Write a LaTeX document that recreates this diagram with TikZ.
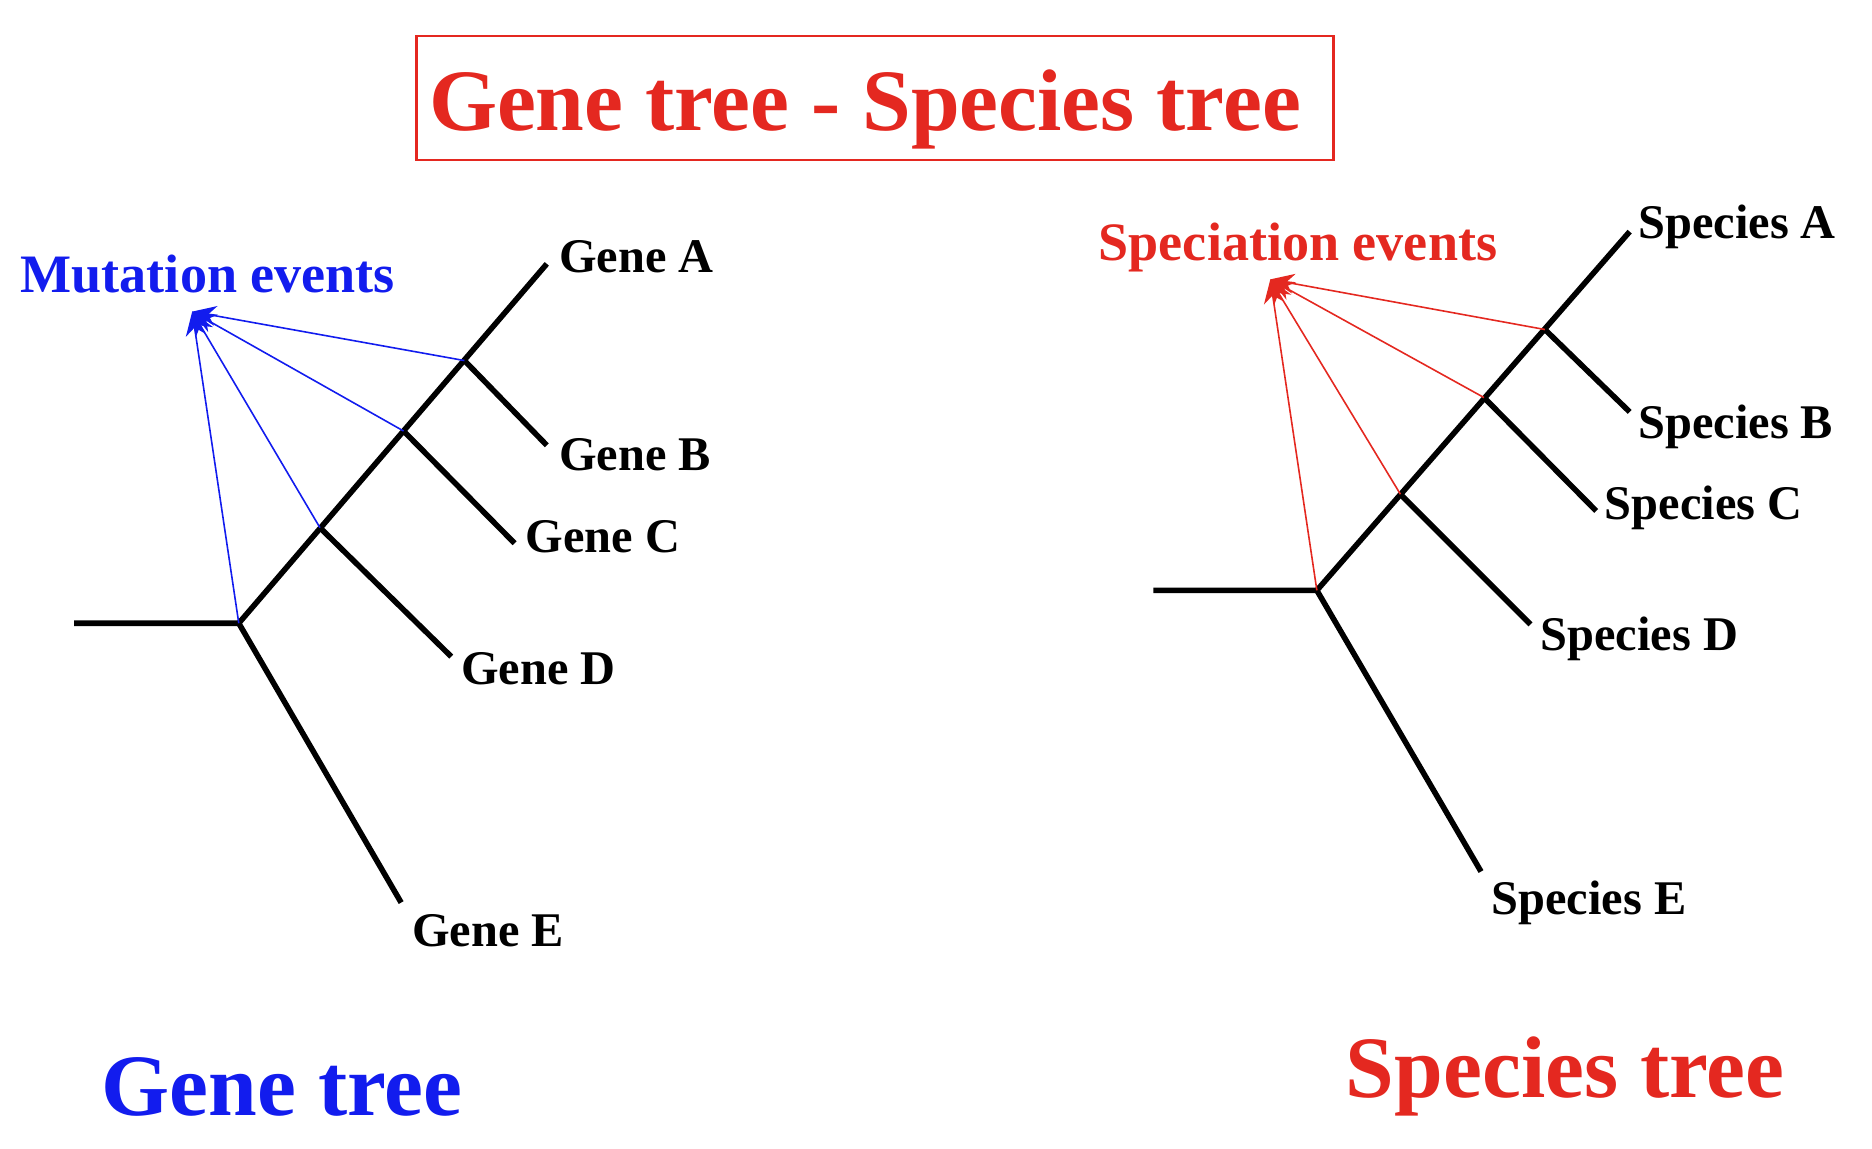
\documentclass[tikz,border=0pt]{standalone}
\usepackage{fontspec}
\setmainfont{Liberation Serif}
\usetikzlibrary{arrows.meta}
\definecolor{tred}{RGB}{228,40,32}
\definecolor{tblue}{RGB}{18,28,238}
\begin{document}
\begin{tikzpicture}[x=0.6pt,y=-0.6pt,
 branch/.style={line width=2.8pt, line cap=butt},
 evt/.style={line width=0.8pt, -{Stealth[length=12pt,width=10pt]}},
 leaf/.style={anchor=base west, inner sep=0pt, font=\fontsize{24.3}{24}\selectfont\bfseries},
 big/.style={anchor=base west, inner sep=0pt, font=\fontsize{44}{44}\selectfont\bfseries},
 evlab/.style={anchor=base west, inner sep=0pt, font=\fontsize{27.2}{27}\selectfont\bfseries}]
\useasboundingbox (0,0) rectangle (1568,962);

% title
\node[draw=tred, line width=1.2pt, minimum width=768*0.6pt, minimum height=104*0.6pt, inner sep=0pt] (box) at (733,82) {};
\node[big, text=tred] (title) at (359,109) {Gene tree - Species tree};

% ---------- gene tree ----------
\coordinate (gL) at (62,522);
\coordinate (gR) at (200,522);
\coordinate (gnD) at (268,442);
\coordinate (gnC) at (338,361);
\coordinate (gnB) at (389,302);
\coordinate (gA) at (458,221);
\coordinate (gB) at (458,373);
\coordinate (gC) at (431,455);
\coordinate (gD) at (378,550);
\coordinate (gE) at (336,756);
\coordinate (gArr) at (161,261);

\draw[branch] (gL) -- (gR) -- (gA);
\draw[branch] (gnB) -- (gB);
\draw[branch] (gnC) -- (gC);
\draw[branch] (gnD) -- (gD);
\draw[branch] (gR) -- (gE);

\draw[evt, tblue] (gR) -- (gArr);
\draw[evt, tblue] (gnD) -- (gArr);
\draw[evt, tblue] (gnC) -- (gArr);
\draw[evt, tblue] (gnB) -- (gArr);

\node[leaf] (lgA) at (468,228) {Gene A};
\node[leaf] (lgB) at (468,394) {Gene B};
\node[leaf] (lgC) at (440,463) {Gene C};
\node[leaf] (lgD) at (386,573) {Gene D};
\node[leaf] (lgE) at (345,793) {Gene E};
\node[evlab, text=tblue] (mut) at (17,245) {Mutation events};
\node[big, text=tblue] (gtree) at (85,934) {Gene tree};

% ---------- species tree ----------
\coordinate (sL) at (966,494.5);
\coordinate (sR) at (1103,494.5);
\coordinate (snD) at (1173,414);
\coordinate (snC) at (1243,333);
\coordinate (snB) at (1294,276);
\coordinate (sA) at (1365,194);
\coordinate (sB) at (1365,345);
\coordinate (sC) at (1337,428);
\coordinate (sD) at (1282,523);
\coordinate (sE) at (1240.5,730);
\coordinate (sArr) at (1064,234);

\draw[branch] (sL) -- (sR) -- (sA);
\draw[branch] (snB) -- (sB);
\draw[branch] (snC) -- (sC);
\draw[branch] (snD) -- (sD);
\draw[branch] (sR) -- (sE);

\draw[evt, tred] (sR) -- (sArr);
\draw[evt, tred] (snD) -- (sArr);
\draw[evt, tred] (snC) -- (sArr);
\draw[evt, tred] (snB) -- (sArr);

\node[leaf] (lsA) at (1372,200) {Species A};
\node[leaf] (lsB) at (1372,367) {Species B};
\node[leaf] (lsC) at (1344,435) {Species C};
\node[leaf] (lsD) at (1290,545) {Species D};
\node[leaf] (lsE) at (1249,766) {Species E};
\node[evlab, text=tred] (spec) at (920,218) {Speciation events};
\node[big, text=tred] (stree) at (1127,919) {Species tree};
\end{tikzpicture}
\end{document}
